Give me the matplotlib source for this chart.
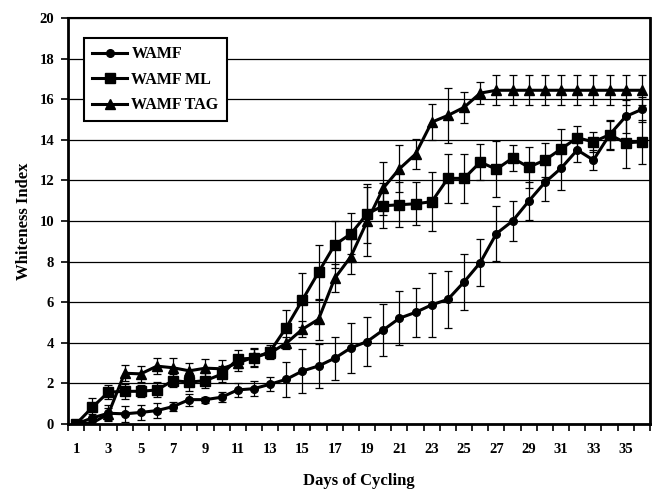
import matplotlib
matplotlib.use("Agg")
import matplotlib.pyplot as plt
from matplotlib.lines import Line2D
import numpy as np

plt.rcParams['font.family'] = ['Liberation Serif', 'DejaVu Serif']
plt.rcParams['font.weight'] = 'bold'

days = list(range(1, 37))
xtick_labels = [str(d) for d in range(1, 37, 2)]
yticks = list(range(0, 21, 2))

wamf = [0, 0.3, 0.53, 0.5, 0.57, 0.66, 0.86, 1.2, 1.2, 1.32, 1.68, 1.74,
        1.96, 2.2, 2.61, 2.86, 3.24, 3.75, 4.06, 4.63, 5.21, 5.5,
        5.87, 6.14, 7.0, 7.95, 9.38, 10.0, 10.98, 11.9, 12.6, 13.5,
        13.0, 14.25, 15.15, 15.5]
wamf_err = [0, 0.2, 0.4, 0.4, 0.35, 0.35, 0.2, 0.3, 0.15, 0.25, 0.35, 0.38,
            0.35, 0.85, 1.1, 1.1, 1.05, 1.25, 1.2, 1.27, 1.33, 1.2,
            1.57, 1.4, 1.38, 1.17, 1.36, 1.0, 0.95, 0.9, 1.05, 0.58,
            0.5, 0.75, 0.8, 0.6]

wamf_ml = [0, 0.82, 1.57, 1.61, 1.61, 1.68, 2.14, 2.06, 2.14, 2.45, 3.2, 3.24,
           3.57, 4.75, 6.11, 7.48, 8.83, 9.37, 10.35, 10.75, 10.8, 10.85,
           10.95, 12.1, 12.1, 12.9, 12.55, 13.1, 12.65, 13.0, 13.55, 14.1,
           13.9, 14.25, 13.85, 13.9]
wamf_ml_err = [0, 0.48, 0.33, 0.37, 0.3, 0.37, 0.33, 0.45, 0.35, 0.4, 0.45, 0.45,
               0.3, 0.85, 1.35, 1.35, 1.15, 1.0, 1.45, 1.1, 1.1, 1.05,
               1.45, 1.2, 1.22, 0.9, 1.37, 0.65, 1.0, 0.85, 1.0, 0.6,
               0.5, 0.7, 1.25, 1.1]

wamf_tag = [0, 0.05, 0.5, 2.5, 2.47, 2.85, 2.77, 2.62, 2.75, 2.72, 3.0, 3.3,
            3.5, 3.98, 4.67, 5.16, 7.18, 8.25, 9.98, 11.62, 12.57, 13.3,
            14.87, 15.2, 15.6, 16.3, 16.44, 16.44, 16.44, 16.44, 16.44, 16.44,
            16.44, 16.44, 16.44, 16.44]
wamf_tag_err = [0, 0.1, 0.3, 0.4, 0.4, 0.4, 0.5, 0.4, 0.45, 0.45, 0.4, 0.45,
                0.3, 0.3, 0.4, 1.0, 0.7, 0.85, 1.7, 1.3, 1.15, 0.75,
                0.9, 1.35, 0.75, 0.55, 0.74, 0.74, 0.74, 0.74, 0.74, 0.74,
                0.74, 0.74, 0.74, 0.74]

series = [
    ("WAMF", wamf, wamf_err, 'o', 5.5),
    ("WAMF ML", wamf_ml, wamf_ml_err, 's', 6.5),
    ("WAMF TAG", wamf_tag, wamf_tag_err, '^', 6.5),
]

fig = plt.figure(figsize=(6.6, 4.91), dpi=100)
ax = fig.add_axes([68/660, 1-424/491, 582/660, 406/491])

handles = []
for name, vals, errs, mk, ms in series:
    ax.errorbar(days, vals, yerr=errs, color='black', ecolor='black',
                elinewidth=0.9, capsize=3, capthick=0.9,
                marker=mk, markersize=ms, linewidth=2.2, zorder=3)
    handles.append(Line2D([], [], color='black', marker=mk, markersize=ms,
                          linewidth=2.2, label=name))

ax.set_xlim(0.5, 36.5)
ax.set_ylim(0, 20)
ax.set_yticks(yticks)
ax.set_yticklabels([str(v) for v in yticks], fontsize=10.5, fontweight='bold')
ax.set_xticks(list(range(1, 37, 2)))
ax.set_xticklabels(xtick_labels, fontsize=10.5, fontweight='bold')
ax.set_xticks(np.arange(0.5, 37, 1.0), minor=True)
ax.tick_params(axis='x', which='major', length=0, pad=14)
ax.tick_params(axis='x', which='minor', length=5, width=1.2, direction='out')
ax.tick_params(axis='y', which='major', length=5, width=1.2, direction='out', pad=5)

ax.yaxis.grid(True, color='black', linewidth=0.9)
ax.set_axisbelow(True)
for s in ax.spines.values():
    s.set_color('black')
    s.set_linewidth(1.5)
ax.spines['left'].set_linewidth(2)
ax.spines['bottom'].set_linewidth(2)
ax.spines['right'].set_linewidth(2)

ax.set_xlabel("Days of Cycling", fontsize=12, fontweight='bold', labelpad=12)
ax.set_ylabel("Whiteness Index", fontsize=12, fontweight='bold', labelpad=5)

leg = ax.legend(handles=handles, loc='upper left', bbox_to_anchor=(0.028, 0.95),
                fontsize=11.5, frameon=True, fancybox=False, edgecolor='black',
                handlelength=2.2, borderpad=0.5, labelspacing=0.6,
                handletextpad=0.25, borderaxespad=0)
leg.get_frame().set_linewidth(1.5)
leg.get_frame().set_alpha(1)
for t in leg.get_texts():
    t.set_fontweight('bold')

fig.savefig("out.png", dpi=100)
